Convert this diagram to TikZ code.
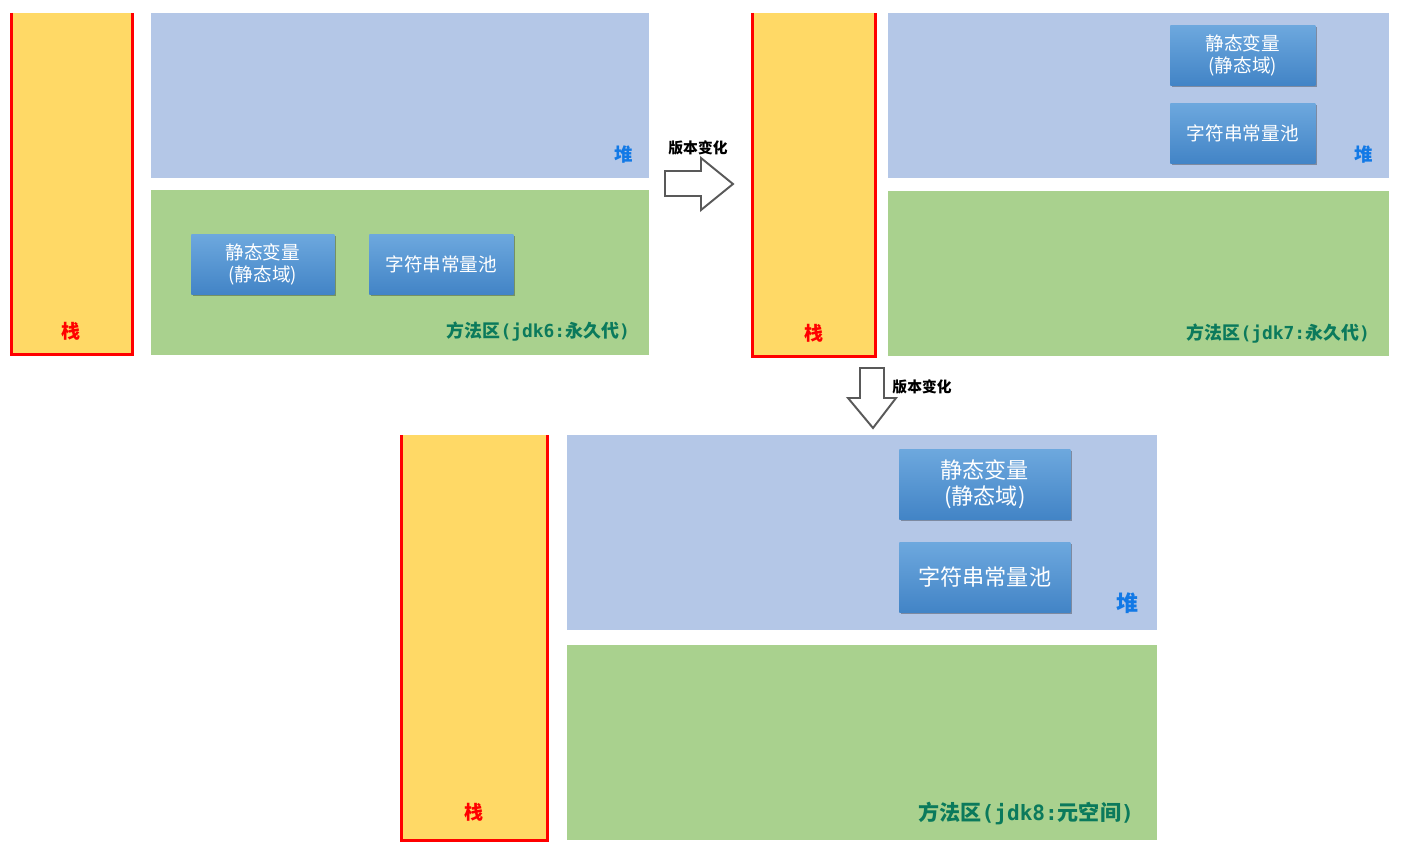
\documentclass[tikz,border=0pt]{standalone}
\usepackage{fontspec}
\setmainfont{Noto Sans CJK SC}
\setmonofont{DejaVu Sans Mono}
\usetikzlibrary{shadows}

\definecolor{stackfill}{HTML}{FFD966}
\definecolor{stackred}{HTML}{FF0000}
\definecolor{heapfill}{HTML}{B4C7E7}
\definecolor{methodfill}{HTML}{A9D18E}
\definecolor{methodtext}{HTML}{0B7A5C}
\definecolor{heaptext}{HTML}{1279E6}
\definecolor{boxtop}{HTML}{6DA8DE}
\definecolor{boxbottom}{HTML}{4284C6}
\definecolor{arrowgray}{HTML}{595959}

\begin{document}
\begin{tikzpicture}[
       x=0.02cm,
       y=-0.02cm,
       region/.style 2 args={
         anchor=north west,
         inner sep=0pt,
         minimum width=#1*0.02cm,
         minimum height=#2*0.02cm
       },
       stack/.style={fill=stackfill},
       heap/.style={fill=heapfill},
       method/.style={fill=methodfill},
       stackline/.style={draw=stackred, line width=1.5pt},
       stacktext/.style={text=stackred, font=\bfseries\fontsize{10.8}{12}\selectfont},
       heaptext/.style={text=heaptext, font=\bfseries\fontsize{#1}{12}\selectfont},
       methodtext/.style={text=methodtext, anchor=east, font=\bfseries\fontsize{#1}{12}\selectfont},
       membox/.style={
         region={#1}{60},
         top color=boxtop,
         bottom color=boxbottom,
         text=white,
         align=center,
         font=\fontsize{10.6}{12.5}\selectfont,
         drop shadow={shadow xshift=0.8pt, shadow yshift=-1.2pt, opacity=0.3, fill=black}
       },
       bigbox/.style={
         membox=171,
         minimum height=70*0.02cm,
         font=\fontsize{12.6}{14.7}\selectfont
       },
       blockarrow/.style={draw=arrowgray, line width=1.1pt, fill=white, line join=miter},
       change/.style={font=\bfseries\fontsize{8.4}{10}\selectfont}
     ]

       \useasboundingbox (0,0) rectangle (1407,855);

       \node (s1) at (10,13) [region={123}{342}, stack]{};
       \node (h1) at (151,13) [region={498}{165}, heap]{};
       \node (m1) at (151,190) [region={498}{165}, method]{};
       \draw[stackline] ([xshift=0.75pt]s1.north west) -- ([shift={(0.75pt,0.75pt)}]s1.south west)
         -- ([shift={(-0.75pt,0.75pt)}]s1.south east) -- ([xshift=-0.75pt]s1.north east);

       \node (b1a) at (191,234) [membox=143]{静态变量\\(静态域)};
       \node (b1b) at (369,234) [membox=144]{字符串常量池};

       \node (t1s) at (71,331) [stacktext]{栈};
       \node (t1h) at (624,155) [heaptext=10.5]{堆};
       \node (t1m) at (636,332) [methodtext=10.2]{方法区\ttfamily(jdk6:\rmfamily 永久代\ttfamily)};

       \draw[blockarrow] (665,171) -- (701,171) -- (701,158) -- (733,184)
         -- (701,210) -- (701,196) -- (665,196) -- cycle;
       \node (c1) at (698,148) [change]{版本变化};

       \node (s2) at (751,13) [region={125}{344}, stack]{};
       \node (h2) at (888,13) [region={501}{165}, heap]{};
       \node (m2) at (888,191) [region={501}{165}, method]{};
       \draw[stackline] ([xshift=0.75pt]s2.north west) -- ([shift={(0.75pt,0.75pt)}]s2.south west)
         -- ([shift={(-0.75pt,0.75pt)}]s2.south east) -- ([xshift=-0.75pt]s2.north east);

       \node (b2a) at (1170,25) [membox=145]{静态变量\\(静态域)};
       \node (b2b) at (1170,103) [membox=145]{字符串常量池};

       \node (t2s) at (814,333) [stacktext]{栈};
       \node (t2h) at (1364,155) [heaptext=10.5]{堆};
       \node (t2m) at (1376,334) [methodtext=10.2]{方法区\ttfamily(jdk7:\rmfamily 永久代\ttfamily)};

       \draw[blockarrow] (860,368) -- (884,368) -- (884,398) -- (896,398)
         -- (873,428) -- (848,398) -- (860,398) -- cycle;
       \node (c2) at (922,387) [change]{版本变化};

       \node (s3) at (400,435) [region={148}{406}, stack]{};
       \node (h3) at (567,435) [region={590}{195}, heap]{};
       \node (m3) at (567,645) [region={590}{195}, method]{};
       \draw[stackline] ([xshift=0.75pt]s3.north west) -- ([shift={(0.75pt,0.75pt)}]s3.south west)
         -- ([shift={(-0.75pt,0.75pt)}]s3.south east) -- ([xshift=-0.75pt]s3.north east);

       \node (b3a) at (899,449) [bigbox]{静态变量\\(静态域)};
       \node (b3b) at (899,542) [bigbox]{字符串常量池};

       \node (t3s) at (474,812) [stacktext]{栈};
       \node (t3h) at (1127,603) [heaptext=12.5]{堆};
       \node (t3m) at (1140,813) [methodtext=12]{方法区\ttfamily(jdk8:\rmfamily 元空间\ttfamily)};

\end{tikzpicture}
\end{document}
